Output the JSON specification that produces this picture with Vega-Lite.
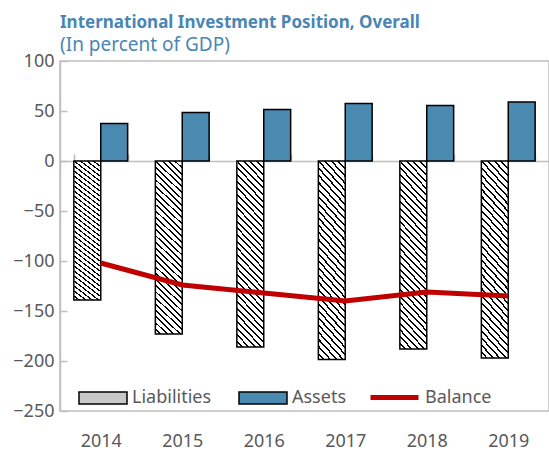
{
"$schema": "https://vega.github.io/schema/vega-lite/v6.json",
"autosize": {"type": "none"},
"padding": {"left": 60, "top": 61, "right": 0, "bottom": 40},
"width": 489,
"height": 350,
"title": {"text": "International Investment Position, Overall", "subtitle": "(In percent of GDP)", "anchor": "start", "frame": "group", "font": "Noto Sans", "fontSize": 17, "fontWeight": "bold", "color": "#4a86b4", "subtitleFont": "Noto Sans", "subtitleFontSize": 19, "subtitleColor": "#4a86b4", "subtitlePadding": 4, "offset": -4},
"config": {"view": {"stroke": "#bfbfbf", "strokeWidth": 1.5}, "font": "Noto Sans"},
"data": {"values": [
{"year": "2014", "series": "Liabilities", "value": -139},
{"year": "2014", "series": "Assets", "value": 37.5},
{"year": "2014", "series": "Balance", "value": -102},
{"year": "2015", "series": "Liabilities", "value": -173},
{"year": "2015", "series": "Assets", "value": 48.5},
{"year": "2015", "series": "Balance", "value": -124},
{"year": "2016", "series": "Liabilities", "value": -186},
{"year": "2016", "series": "Assets", "value": 51.5},
{"year": "2016", "series": "Balance", "value": -132},
{"year": "2017", "series": "Liabilities", "value": -198.5},
{"year": "2017", "series": "Assets", "value": 57.5},
{"year": "2017", "series": "Balance", "value": -140},
{"year": "2018", "series": "Liabilities", "value": -188},
{"year": "2018", "series": "Assets", "value": 55.5},
{"year": "2018", "series": "Balance", "value": -131},
{"year": "2019", "series": "Liabilities", "value": -197},
{"year": "2019", "series": "Assets", "value": 59},
{"year": "2019", "series": "Balance", "value": -135}
]},
"encoding": {
"x": {"field": "year", "type": "ordinal", "scale": {"paddingInner": 0.34, "paddingOuter": 0.17}, "axis": {"orient": "bottom", "offset": -250, "tickSize": -7, "tickBand": "extent", "tickColor": "#bfbfbf", "tickWidth": 1.5, "domainColor": "#bfbfbf", "domainWidth": 1.5, "labelPadding": 278, "labelAngle": 0, "labelFont": "Noto Sans", "labelFontSize": 18, "labelColor": "#595959", "title": null, "grid": false}},
"y": {"field": "value", "type": "quantitative", "scale": {"domain": [-250, 100], "nice": false}, "axis": {"values": [-250, -200, -150, -100, -50, 0, 50, 100], "grid": false, "tickSize": -7, "tickColor": "#bfbfbf", "tickWidth": 1.5, "domainColor": "#bfbfbf", "domainWidth": 1.5, "labelPadding": 13, "labelFont": "Noto Sans", "labelFontSize": 18, "labelColor": "#595959", "title": null}}
},
"layer": [
{"transform": [{"filter": "datum.series === 'Liabilities'"}],
 "mark": {"type": "bar", "stroke": "#000", "strokeWidth": 1.5, "fill": {"gradient": "linear", "x1": 0, "y1": 1, "x2": 0.1687, "y2": -0.125, "stops": [
{"offset":0,"color":"#fff"},{"offset":0.021875,"color":"#fff"},{"offset":0.021875,"color":"#000"},{"offset":0.03125,"color":"#000"},
{"offset":0.03125,"color":"#fff"},{"offset":0.053125,"color":"#fff"},{"offset":0.053125,"color":"#000"},{"offset":0.0625,"color":"#000"},
{"offset":0.0625,"color":"#fff"},{"offset":0.084375,"color":"#fff"},{"offset":0.084375,"color":"#000"},{"offset":0.09375,"color":"#000"},
{"offset":0.09375,"color":"#fff"},{"offset":0.115625,"color":"#fff"},{"offset":0.115625,"color":"#000"},{"offset":0.125,"color":"#000"},
{"offset":0.125,"color":"#fff"},{"offset":0.146875,"color":"#fff"},{"offset":0.146875,"color":"#000"},{"offset":0.15625,"color":"#000"},
{"offset":0.15625,"color":"#fff"},{"offset":0.178125,"color":"#fff"},{"offset":0.178125,"color":"#000"},{"offset":0.1875,"color":"#000"},
{"offset":0.1875,"color":"#fff"},{"offset":0.209375,"color":"#fff"},{"offset":0.209375,"color":"#000"},{"offset":0.21875,"color":"#000"},
{"offset":0.21875,"color":"#fff"},{"offset":0.240625,"color":"#fff"},{"offset":0.240625,"color":"#000"},{"offset":0.25,"color":"#000"},
{"offset":0.25,"color":"#fff"},{"offset":0.271875,"color":"#fff"},{"offset":0.271875,"color":"#000"},{"offset":0.28125,"color":"#000"},
{"offset":0.28125,"color":"#fff"},{"offset":0.303125,"color":"#fff"},{"offset":0.303125,"color":"#000"},{"offset":0.3125,"color":"#000"},
{"offset":0.3125,"color":"#fff"},{"offset":0.334375,"color":"#fff"},{"offset":0.334375,"color":"#000"},{"offset":0.34375,"color":"#000"},
{"offset":0.34375,"color":"#fff"},{"offset":0.365625,"color":"#fff"},{"offset":0.365625,"color":"#000"},{"offset":0.375,"color":"#000"},
{"offset":0.375,"color":"#fff"},{"offset":0.396875,"color":"#fff"},{"offset":0.396875,"color":"#000"},{"offset":0.40625,"color":"#000"},
{"offset":0.40625,"color":"#fff"},{"offset":0.428125,"color":"#fff"},{"offset":0.428125,"color":"#000"},{"offset":0.4375,"color":"#000"},
{"offset":0.4375,"color":"#fff"},{"offset":0.459375,"color":"#fff"},{"offset":0.459375,"color":"#000"},{"offset":0.46875,"color":"#000"},
{"offset":0.46875,"color":"#fff"},{"offset":0.490625,"color":"#fff"},{"offset":0.490625,"color":"#000"},{"offset":0.5,"color":"#000"},
{"offset":0.5,"color":"#fff"},{"offset":0.521875,"color":"#fff"},{"offset":0.521875,"color":"#000"},{"offset":0.53125,"color":"#000"},
{"offset":0.53125,"color":"#fff"},{"offset":0.553125,"color":"#fff"},{"offset":0.553125,"color":"#000"},{"offset":0.5625,"color":"#000"},
{"offset":0.5625,"color":"#fff"},{"offset":0.584375,"color":"#fff"},{"offset":0.584375,"color":"#000"},{"offset":0.59375,"color":"#000"},
{"offset":0.59375,"color":"#fff"},{"offset":0.615625,"color":"#fff"},{"offset":0.615625,"color":"#000"},{"offset":0.625,"color":"#000"},
{"offset":0.625,"color":"#fff"},{"offset":0.646875,"color":"#fff"},{"offset":0.646875,"color":"#000"},{"offset":0.65625,"color":"#000"},
{"offset":0.65625,"color":"#fff"},{"offset":0.678125,"color":"#fff"},{"offset":0.678125,"color":"#000"},{"offset":0.6875,"color":"#000"},
{"offset":0.6875,"color":"#fff"},{"offset":0.709375,"color":"#fff"},{"offset":0.709375,"color":"#000"},{"offset":0.71875,"color":"#000"},
{"offset":0.71875,"color":"#fff"},{"offset":0.740625,"color":"#fff"},{"offset":0.740625,"color":"#000"},{"offset":0.75,"color":"#000"},
{"offset":0.75,"color":"#fff"},{"offset":0.771875,"color":"#fff"},{"offset":0.771875,"color":"#000"},{"offset":0.78125,"color":"#000"},
{"offset":0.78125,"color":"#fff"},{"offset":0.803125,"color":"#fff"},{"offset":0.803125,"color":"#000"},{"offset":0.8125,"color":"#000"},
{"offset":0.8125,"color":"#fff"},{"offset":0.834375,"color":"#fff"},{"offset":0.834375,"color":"#000"},{"offset":0.84375,"color":"#000"},
{"offset":0.84375,"color":"#fff"},{"offset":0.865625,"color":"#fff"},{"offset":0.865625,"color":"#000"},{"offset":0.875,"color":"#000"},
{"offset":0.875,"color":"#fff"},{"offset":0.896875,"color":"#fff"},{"offset":0.896875,"color":"#000"},{"offset":0.90625,"color":"#000"},
{"offset":0.90625,"color":"#fff"},{"offset":0.928125,"color":"#fff"},{"offset":0.928125,"color":"#000"},{"offset":0.9375,"color":"#000"},
{"offset":0.9375,"color":"#fff"},{"offset":0.959375,"color":"#fff"},{"offset":0.959375,"color":"#000"},{"offset":0.96875,"color":"#000"},
{"offset":0.96875,"color":"#fff"},{"offset":0.990625,"color":"#fff"},{"offset":0.990625,"color":"#000"},{"offset":1,"color":"#000"}
]}},
 "encoding": {"xOffset": {"field": "series", "type": "nominal", "scale": {"domain": ["Liabilities", "Assets"], "paddingInner": 0, "paddingOuter": 0}}}},
{"transform": [{"filter": "datum.series === 'Assets'"}],
 "mark": {"type": "bar", "stroke": "#000", "strokeWidth": 1.5},
 "encoding": {
  "xOffset": {"field": "series", "type": "nominal", "scale": {"domain": ["Liabilities", "Assets"], "paddingInner": 0, "paddingOuter": 0}},
  "color": {"field": "series", "type": "nominal", "scale": {"domain": ["Liabilities", "Assets"], "range": ["#c8c8c8", "#4a89b0"]},
   "legend": {"orient": "none", "legendX": 18, "legendY": 312, "direction": "horizontal", "title": null, "padding": 0, "symbolSize": 2304, "symbolType": "M-1,-0.25H1V0.25H-1Z", "symbolStrokeColor": "#000", "symbolStrokeWidth": 1.5, "labelOffset": 4, "columnPadding": 24, "labelFont": "Noto Sans", "labelFontSize": 18, "labelColor": "#595959"}
  }
 }},
{"transform": [{"filter": "datum.series === 'Balance'"}],
 "mark": {"type": "line", "strokeWidth": 5, "strokeCap": "butt"},
 "encoding": {"stroke": {"field": "series", "type": "nominal", "scale": {"domain": ["Balance"], "range": ["#c00000"]},
   "legend": {"orient": "none", "legendX": 308, "legendY": 310, "direction": "horizontal", "title": null, "padding": 0, "symbolSize": 2304, "symbolType": "M-1,0H1", "symbolStrokeWidth": 5, "labelOffset": 4, "labelFont": "Noto Sans", "labelFontSize": 18, "labelColor": "#595959"}}}}
]
}
